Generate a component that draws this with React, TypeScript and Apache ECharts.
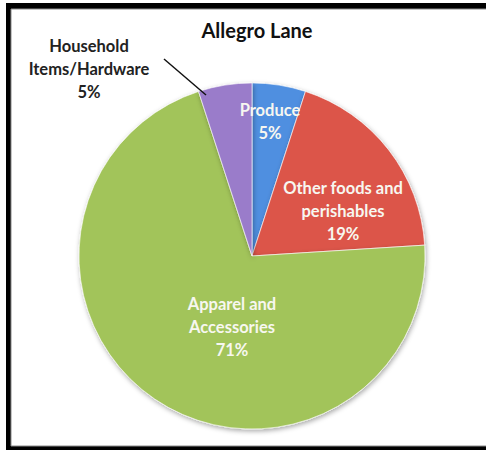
import React, { useEffect, useRef } from "react";
import * as echarts from "echarts";

const title = "Allegro Lane";
const categories = ["Produce", "Other foods and\nperishables", "Apparel and\nAccessories", "Household\nItems/Hardware"];
const values = [5, 19, 71, 5];
const colors = ["#4f8fe0", "#dc5448", "#a2c45a", "#9a7bca"];
const labelColors = ["#f7f7f0", "#f7f7f0", "#f7f7f0", "#222222"];
// label anchor positions (px) for each slice label
const labelPos = [
  [270, 121],
  [343, 211],
  [232, 327],
  [89, 69],
];

export default function App() {
  const ref = useRef<HTMLDivElement>(null);
  useEffect(() => {
    if (!ref.current) return;
    const chart = echarts.init(ref.current, null, { renderer: "svg" });
    const font = "Lato, 'Open Sans', sans-serif";
    chart.setOption({
      animation: false,
      backgroundColor: "#ffffff",
      title: {
        text: title,
        left: 252,
        textAlign: "center",
        top: 15,
        textStyle: { fontFamily: font, fontWeight: "bold", fontSize: 20, color: "#111" },
      },
      graphic: [
        { type: "rect", z: -10, shape: { x: 6, y: 3, width: 500, height: 460 }, style: { fill: "#000" }, silent: true },
        { type: "rect", z: -9, shape: { x: 11, y: 9, width: 490, height: 437 }, style: { fill: "#fff", stroke: "#8a8a8a", lineWidth: 1 }, silent: true },
        { type: "line", z: 10, shape: { x1: 164, y1: 59, x2: 206, y2: 95 }, style: { stroke: "#111", lineWidth: 1.5 }, silent: true },
      ],
      series: [
        {
          type: "pie",
          center: [252, 256],
          radius: 173,
          startAngle: 90,
          clockwise: true,
          data: categories.map((c, i) => ({
            name: c,
            value: values[i],
            itemStyle: { color: colors[i] },
            label: { color: labelColors[i] },
          })),
          itemStyle: {
            borderColor: "rgba(255,255,255,0.6)",
            borderWidth: 1,
            shadowBlur: 5,
            shadowColor: "rgba(0,0,0,0.35)",
            shadowOffsetX: 1,
            shadowOffsetY: 2,
          },
          label: {
            show: true,
            position: "inside",
            formatter: (p: any) => p.name + "\n" + p.value + "%",
            fontFamily: font,
            fontWeight: "bold",
            fontSize: 16.5,
            lineHeight: 23,
            align: "center",
          },
          labelLine: { show: false },
          labelLayout: (params: any) => {
            const p = labelPos[params.dataIndex];
            return { x: p[0], y: p[1], align: "center", verticalAlign: "middle" };
          },
        },
      ],
    });
    return () => chart.dispose();
  }, []);
  return <div ref={ref} style={{ position: "fixed", left: 0, top: 0, width: 486, height: 450 }} />;
}
